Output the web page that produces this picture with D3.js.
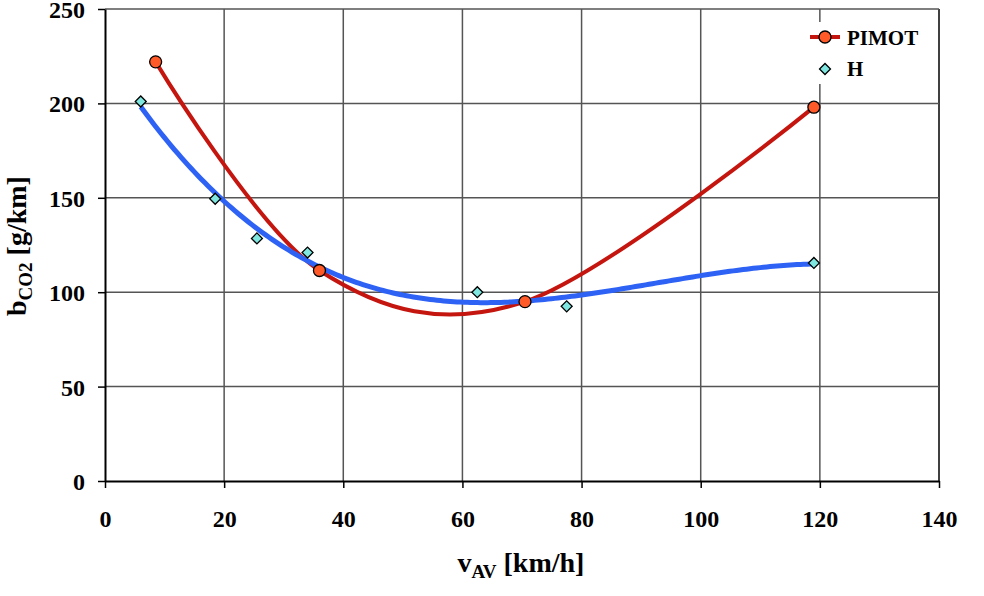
<!DOCTYPE html>
<html><head><meta charset="utf-8">
<script src="https://cdn.jsdelivr.net/npm/d3@7/dist/d3.min.js"></script>
<style>body{margin:0;background:#fff}svg{display:block}text{font-family:"Liberation Serif","Times New Roman",serif;font-weight:bold;fill:#000}</style>
</head><body><svg id="c" width="984" height="596"></svg>
<script>
const xTicks = [0,20,40,60,80,100,120,140];
const yTicks = [0,50,100,150,200,250];
const pimotX = [8.5, 36, 70.5, 119];
const pimotY = [222, 111.5, 95, 198];
const hX = [6, 18.5, 25.5, 34, 62.5, 77.5, 119];
const hY = [201, 149.5, 128.5, 121, 100, 92.5, 115.5];
const seriesNames = ["PIMOT", "H"];

const svg = d3.select("#c");
const L = 105, R = 939, T = 9, B = 481;
const x = d3.scaleLinear().domain([0,140]).range([L,R]);
const y = d3.scaleLinear().domain([0,250]).range([B,T]);

// polynomial least squares fit (trendline for H)
function polyfit(xs, ys, deg){
  const n = deg+1;
  const A = Array.from({length:n},()=>new Array(n+1).fill(0));
  for(let k=0;k<xs.length;k++){
    for(let i=0;i<n;i++){
      for(let j=0;j<n;j++) A[i][j]+=Math.pow(xs[k],i+j);
      A[i][n]+=ys[k]*Math.pow(xs[k],i);
    }
  }
  for(let i=0;i<n;i++){
    let p=i; for(let r=i+1;r<n;r++) if(Math.abs(A[r][i])>Math.abs(A[p][i])) p=r;
    [A[i],A[p]]=[A[p],A[i]];
    for(let r=0;r<n;r++){ if(r===i) continue; const f=A[r][i]/A[i][i]; for(let c=i;c<=n;c++) A[r][c]-=f*A[i][c]; }
  }
  return A.map((row,i)=>row[n]/row[i]);
}
function trend(xs, ys, deg){
  const c = polyfit(xs, ys, deg);
  const x0 = d3.min(xs), x1 = d3.max(xs);
  return d3.range(0,201).map(i=>{const t=x0+(x1-x0)*i/200; return [t, c.reduce((s,a,k)=>s+a*Math.pow(t,k),0)];});
}

// grid
const g = svg.append("g");
g.selectAll(".gx").data(xTicks.slice(1)).join("line")
  .attr("x1",d=>x(d)).attr("x2",d=>x(d)).attr("y1",T).attr("y2",B)
  .attr("stroke",d=>d===140?"#000":"#555").attr("stroke-width",1.5);
g.selectAll(".gy").data(yTicks.slice(1)).join("line")
  .attr("x1",L).attr("x2",R).attr("y1",d=>y(d)).attr("y2",d=>y(d))
  .attr("stroke","#555").attr("stroke-width",1.5);

// axes
const xa = svg.append("g").attr("transform",`translate(0,${B})`)
  .call(d3.axisBottom(x).tickValues(xTicks).tickSize(7).tickPadding(22).tickSizeOuter(0));
const ya = svg.append("g").attr("transform",`translate(${L},0)`)
  .call(d3.axisLeft(y).tickValues(yTicks).tickSize(7).tickPadding(13).tickSizeOuter(0));
[xa,ya].forEach(a=>{a.select(".domain").attr("stroke","#000").attr("stroke-width",2);
  a.selectAll(".tick line").attr("stroke","#000").attr("stroke-width",1.5);
  a.selectAll("text").style("font-family","'Liberation Serif',serif").style("font-weight","bold").style("font-size","24px").attr("fill","#000");});
ya.selectAll("text").attr("dy","0.35em");

// curves
const smooth = d3.line().x(d=>x(d[0])).y(d=>y(d[1])).curve(d3.curveCardinal.tension(0));
const straight = d3.line().x(d=>x(d[0])).y(d=>y(d[1]));
svg.append("path").datum(pimotX.map((v,i)=>[v,pimotY[i]])).attr("d",smooth)
  .attr("fill","none").attr("stroke","#C4160F").attr("stroke-width",4);
svg.append("path").datum(trend(hX,hY,3)).attr("d",straight)
  .attr("fill","none").attr("stroke","#2E62F5").attr("stroke-width",5);

// markers
const diamond = d3.symbol().type(d3.symbolSquare).size(60);
svg.selectAll(".hm").data(hX.map((v,i)=>[v,hY[i]])).join("path")
  .attr("d",diamond).attr("transform",d=>`translate(${x(d[0])},${y(d[1])}) rotate(45)`)
  .attr("fill","#7FE6E0").attr("stroke","#000").attr("stroke-width",1.3);
svg.selectAll(".pm").data(pimotX.map((v,i)=>[v,pimotY[i]])).join("circle")
  .attr("cx",d=>x(d[0])).attr("cy",d=>y(d[1])).attr("r",6)
  .attr("fill","#FF5A28").attr("stroke","#000").attr("stroke-width",1.3);

// legend
const lg = svg.append("g");
lg.append("rect").attr("x",801).attr("y",22).attr("width",134).attr("height",62).attr("fill","#fff");
lg.append("line").attr("x1",810).attr("x2",840).attr("y1",37).attr("y2",37).attr("stroke","#C4160F").attr("stroke-width",4);
lg.append("circle").attr("cx",825).attr("cy",37).attr("r",6).attr("fill","#FF5A28").attr("stroke","#000").attr("stroke-width",1.3);
lg.append("path").attr("d",diamond).attr("transform","translate(825,69) rotate(45)").attr("fill","#7FE6E0").attr("stroke","#000").attr("stroke-width",1.3);
lg.selectAll(".lt").data(seriesNames).join("text").attr("x",847).attr("y",(d,i)=>38+i*31).attr("dy","0.35em")
  .style("font-size","21px").text(d=>d);

// axis titles
const xt = svg.append("text").attr("x",521).attr("y",572).attr("text-anchor","middle").style("font-size","28px");
xt.append("tspan").text("v");
xt.append("tspan").attr("dy",6).style("font-size","19px").text("AV");
xt.append("tspan").attr("dy",-6).text(" [km/h]");
const yt = svg.append("text").attr("transform","translate(26,246) rotate(-90)").attr("text-anchor","middle").style("font-size","28px");
yt.append("tspan").text("b");
yt.append("tspan").attr("dy",6).style("font-size","19px").text("CO2");
yt.append("tspan").attr("dy",-6).text(" [g/km]");
</script></body></html>
